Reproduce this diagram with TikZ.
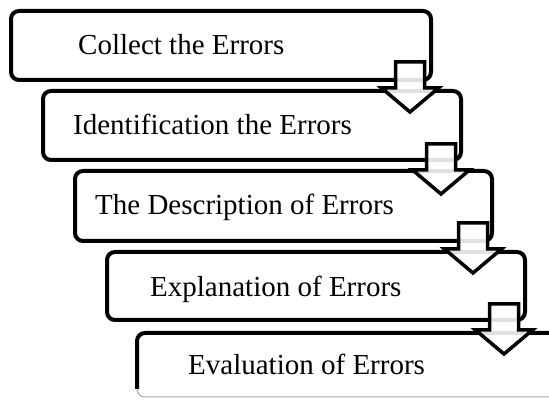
\documentclass[tikz,border=0pt]{standalone}
\usepackage{fontspec}
\setmainfont{Liberation Serif}
\usetikzlibrary{calc}
\begin{document}
\begin{tikzpicture}[x=1pt,y=1pt,
  stagebox/.style={draw=black, line width=4pt, rounded corners=8pt, fill=white,
    inner sep=0pt},
  label/.style={anchor=base west, inner sep=0pt, font=\fontsize{29}{32}\selectfont},
  arrowline/.style={draw=black, line width=3.5pt, fill=white, fill opacity=0.88,
    line join=miter},
  pics/blockdown/.style={code={
    \path[arrowline] (-14.5,0) -- (-14.5,-26) -- (-28.5,-26) -- (0,-50)
      -- (28.5,-26) -- (14.5,-26) -- (14.5,0) -- cycle;
  }}]
\useasboundingbox (0,0) rectangle (549,401);
\clip (0,0) rectangle (549,401);

% the stages, each one step down and to the right
\node[stagebox, minimum width=420pt, minimum height=69pt] (b1) at (221,355.5) {};
\node[stagebox, minimum width=418pt, minimum height=69pt] (b2) at (252,275.5) {};
\pic at ($(b1.south east)+(-23,20)$) {blockdown};

\node[stagebox, minimum width=417pt, minimum height=70pt] (b3) at (283.5,195) {};
\pic at ($(b2.south east)+(-22,18)$) {blockdown};

\node[stagebox, minimum width=418pt, minimum height=68pt] (b4) at (316,115) {};
\pic at ($(b3.south east)+(-21,20)$) {blockdown};

% last stage runs past the right and bottom edges
\node[draw=none, minimum width=430pt, minimum height=66pt, anchor=north west] (b5) at (137,68) {};
\fill[white] (b5.north west) rectangle (549,0);
\draw[black, line width=4pt] (560,68) -- (145,68) arc[start angle=90, end angle=180, radius=8] -- (137,12);
\draw[black!35, line width=1pt] (137,12) arc[start angle=180, end angle=270, radius=8] -- (560,4);
\pic at ($(b4.south east)+(-23,18)$) {blockdown};

% stage names
\node[label] (t1) at (78,346) {Collect the Errors};
\node[label] (t2) at (73,266) {Identification the Errors};
\node[label] (t3) at (95,186) {The Description of Errors};
\node[label] (t4) at (150,104) {Explanation of Errors};
\node[label] (t5) at (188,26) {Evaluation of Errors};
\end{tikzpicture}
\end{document}
